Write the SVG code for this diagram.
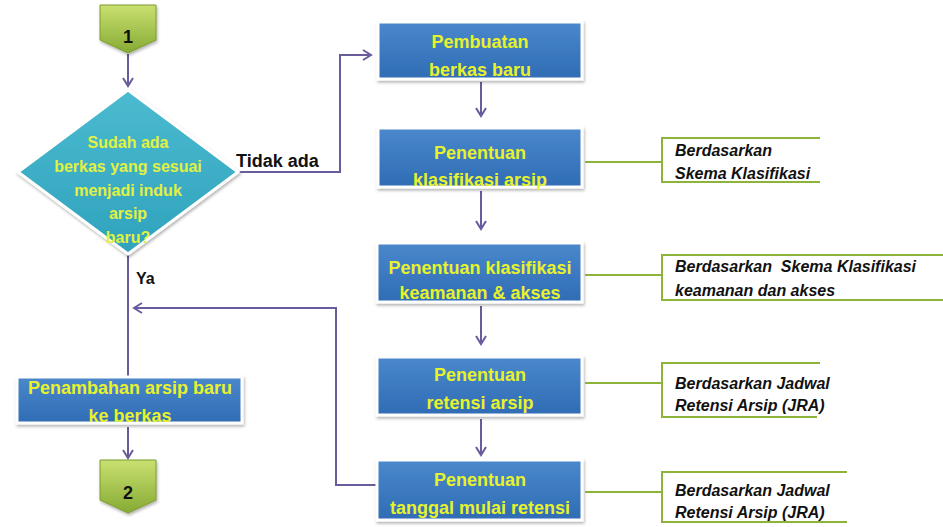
<svg xmlns="http://www.w3.org/2000/svg" width="943" height="527" viewBox="0 0 943 527">
<defs>
<linearGradient id="gBlue" x1="0" y1="0" x2="0" y2="1">
<stop offset="0" stop-color="#4A88CC"/><stop offset="1" stop-color="#2F6CB4"/>
</linearGradient>
<linearGradient id="gTeal" x1="0" y1="0" x2="0" y2="1">
<stop offset="0" stop-color="#4BBBD0"/><stop offset="1" stop-color="#2FA2BC"/>
</linearGradient>
<linearGradient id="gGreen" x1="0" y1="0" x2="0" y2="1">
<stop offset="0" stop-color="#C9E070"/><stop offset="1" stop-color="#86AA34"/>
</linearGradient>
<filter id="sh" x="-10%" y="-10%" width="120%" height="130%">
<feDropShadow dx="1" dy="2" stdDeviation="1.5" flood-color="#000" flood-opacity="0.3"/>
</filter>
<marker id="arr" markerWidth="12" markerHeight="12" refX="9" refY="6" orient="auto" markerUnits="userSpaceOnUse">
<path d="M1,1 L9,6 L1,11" fill="none" stroke="#6A5B9C" stroke-width="2"/>
</marker>
</defs>
<style>
.box{fill:url(#gBlue);stroke:#fff;stroke-width:3;filter:url(#sh)}
.pent{fill:url(#gGreen);stroke:#7C9C30;stroke-width:1;filter:url(#sh)}
.dia{fill:url(#gTeal);stroke:#fff;stroke-width:3;filter:url(#sh)}
.bt{font-family:"Liberation Sans",Arial,sans-serif;font-weight:bold;font-size:18px;fill:#E8F22C;text-anchor:middle}
.dt{font-family:"Liberation Sans",Arial,sans-serif;font-weight:bold;font-size:16px;fill:#E3F140;text-anchor:middle}
.nt{font-family:"Liberation Sans",Arial,sans-serif;font-weight:bold;font-size:18px;fill:#111;text-anchor:middle}
.lbl{font-family:"Liberation Sans",Arial,sans-serif;font-weight:bold;font-size:18px;fill:#111}
.ct{font-family:"Liberation Sans",Arial,sans-serif;font-weight:bold;font-style:italic;font-size:16px;fill:#111}
.con{fill:none;stroke:#6A5B9C;stroke-width:2}
.gl{fill:none;stroke:#8DB33A;stroke-width:2}
</style>
<rect width="943" height="527" fill="#fff"/>

<g id="connectors">
<line class="con" x1="128" y1="54" x2="128" y2="86" marker-end="url(#arr)"/>
<polyline class="con" points="238,172 340,172 340,55 371,55" marker-end="url(#arr)"/>
<line class="con" x1="128" y1="255" x2="128" y2="376"/>
<line class="con" x1="481" y1="82" x2="481" y2="116" marker-end="url(#arr)"/>
<line class="con" x1="481" y1="191" x2="481" y2="229" marker-end="url(#arr)"/>
<line class="con" x1="481" y1="306" x2="481" y2="344" marker-end="url(#arr)"/>
<line class="con" x1="481" y1="419" x2="481" y2="455" marker-end="url(#arr)"/>
<polyline class="con" points="377,485 336,485 336,308 134,308" marker-end="url(#arr)"/>
<line class="con" x1="128" y1="427" x2="128" y2="458" marker-end="url(#arr)"/>
<text class="lbl" x="236" y="167">Tidak ada</text>
<text class="lbl" x="136" y="284" style="font-size:16px">Ya</text>
</g>

<g id="n1">
<polygon class="pent" points="100,5 156,5 156,40 128,53 100,40"/>
<text class="nt" x="128" y="43">1</text>
</g>

<g id="decision">
<polygon class="dia" points="128,90 238,172 128,254 18,172"/>
<text class="dt" x="128" y="148">Sudah ada</text>
<text class="dt" x="128" y="172">berkas yang sesuai</text>
<text class="dt" x="128" y="196">menjadi induk</text>
<text class="dt" x="128" y="219">arsip</text>
<text class="dt" x="128" y="243">baru?</text>
</g>

<g id="pembuatan">
<rect class="box" x="378" y="22" width="204" height="57"/>
<text class="bt" x="480" y="48">Pembuatan</text>
<text class="bt" x="480" y="76">berkas baru</text>
</g>

<g id="klasifikasi">
<rect class="box" x="378" y="128" width="204" height="59"/>
<text class="bt" x="480" y="159">Penentuan</text>
<text class="bt" x="480" y="186">klasifikasi arsip</text>
</g>

<g id="keamanan">
<rect class="box" x="377" y="243" width="205" height="59"/>
<text class="bt" x="480" y="274">Penentuan klasifikasi</text>
<text class="bt" x="480" y="299">keamanan &amp; akses</text>
</g>

<g id="retensi">
<rect class="box" x="377" y="357" width="205" height="58"/>
<text class="bt" x="480" y="381">Penentuan</text>
<text class="bt" x="480" y="409">retensi arsip</text>
</g>

<g id="tanggal">
<rect class="box" x="377" y="460" width="205" height="60"/>
<text class="bt" x="480" y="486">Penentuan</text>
<text class="bt" x="480" y="514">tanggal mulai retensi</text>
</g>

<g id="penambahan">
<rect class="box" x="17" y="377" width="225" height="46"/>
<text class="bt" x="130" y="394">Penambahan arsip baru</text>
<text class="bt" x="130" y="422">ke berkas</text>
</g>

<g id="n2">
<polygon class="pent" points="100,460 156,460 156,500 128,513 100,500"/>
<text class="nt" x="128" y="499">2</text>
</g>

<g id="note1">
<polyline class="gl" points="585,162 662,162"/>
<polyline class="gl" points="820,138 662,138 662,182 820,182"/>
<text class="ct" x="675" y="156">Berdasarkan</text>
<text class="ct" x="675" y="179">Skema Klasifikasi</text>
</g>

<g id="note2">
<polyline class="gl" points="585,275 662,275"/>
<polyline class="gl" points="943,255 662,255 662,300 943,300"/>
<text class="ct" x="675" y="272">Berdasarkan&#160; Skema Klasifikasi</text>
<text class="ct" x="675" y="296">keamanan dan akses</text>
</g>

<g id="note3">
<polyline class="gl" points="585,383 662,383"/>
<polyline class="gl" points="820,363 662,363 662,417 817,417"/>
<text class="ct" x="675" y="389">Berdasarkan Jadwal</text>
<text class="ct" x="675" y="411">Retensi Arsip (JRA)</text>
</g>

<g id="note4">
<polyline class="gl" points="585,492 662,492"/>
<polyline class="gl" points="847,472 662,472 662,522 847,522"/>
<text class="ct" x="675" y="496">Berdasarkan Jadwal</text>
<text class="ct" x="675" y="518">Retensi Arsip (JRA)</text>
</g>
</svg>
